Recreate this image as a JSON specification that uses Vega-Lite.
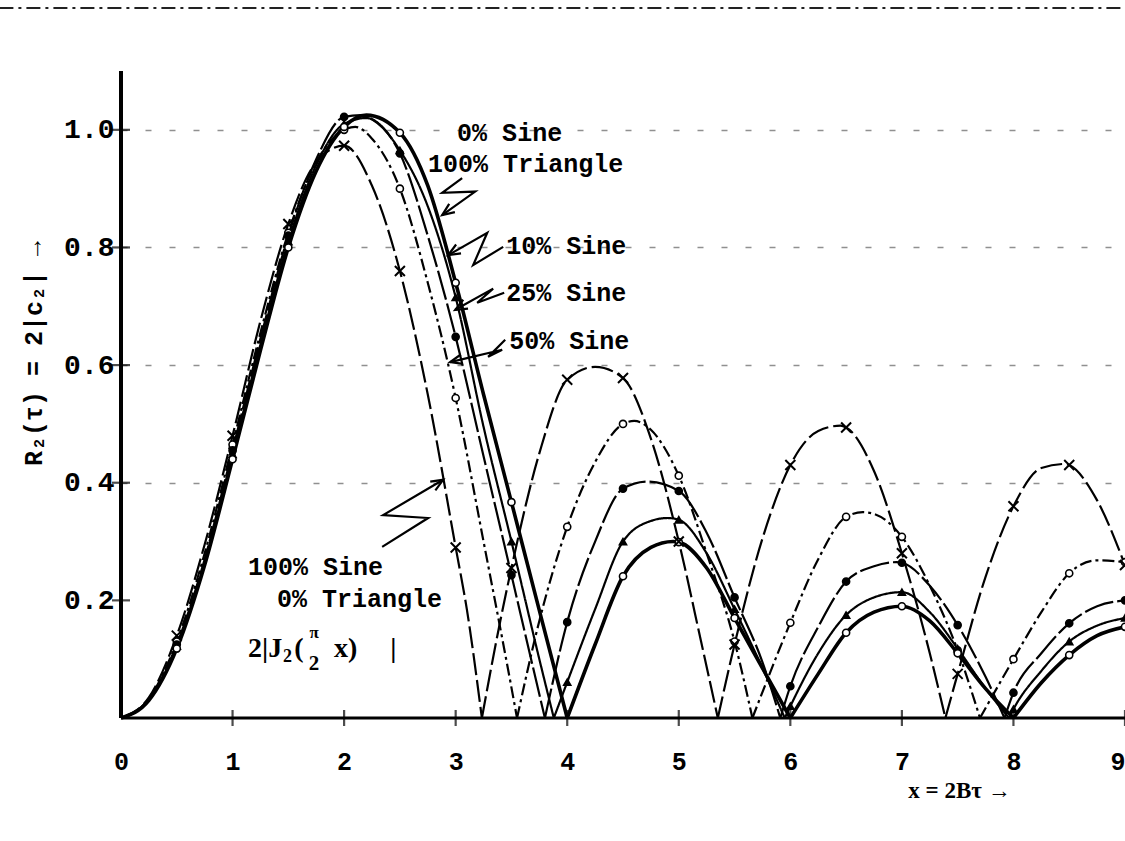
{
"$schema":"https://vega.github.io/schema/vega-lite/v6.json",
"width":1004,"height":647,
"autosize":{"type":"none"},
"padding":{"left":121,"top":71,"right":0,"bottom":123},
"background":"white",
"config":{"view":{"stroke":null},"axis":{"labelColor":"black","titleColor":"black"}},
"datasets":{
"curves":[
{"s":"S100","l":1,"x":0,"y":0},{"s":"S100","l":1,"x":0.25,"y":0.035},{"s":"S100","l":1,"x":0.5,"y":0.14},{"s":"S100","l":1,"x":0.75,"y":0.295},{"s":"S100","l":1,"x":1,"y":0.48},{"s":"S100","l":1,"x":1.25,"y":0.675},{"s":"S100","l":1,"x":1.5,"y":0.84},{"s":"S100","l":1,"x":1.75,"y":0.945},{"s":"S100","l":1,"x":2,"y":0.973},{"s":"S100","l":1,"x":2.25,"y":0.905},{"s":"S100","l":1,"x":2.5,"y":0.76},{"s":"S100","l":1,"x":2.75,"y":0.55},{"s":"S100","l":1,"x":3,"y":0.29},{"s":"S100","l":1,"x":3.1,"y":0.185},{"s":"S100","l":1,"x":3.235,"y":0},
{"s":"S100","l":2,"x":3.235,"y":0},{"s":"S100","l":2,"x":3.4,"y":0.165},{"s":"S100","l":2,"x":3.5,"y":0.255},{"s":"S100","l":2,"x":3.75,"y":0.45},{"s":"S100","l":2,"x":4,"y":0.575},{"s":"S100","l":2,"x":4.25,"y":0.597},{"s":"S100","l":2,"x":4.5,"y":0.578},{"s":"S100","l":2,"x":4.75,"y":0.475},{"s":"S100","l":2,"x":5,"y":0.3},{"s":"S100","l":2,"x":5.2,"y":0.13},{"s":"S100","l":2,"x":5.35,"y":0},
{"s":"S100","l":3,"x":5.35,"y":0},{"s":"S100","l":3,"x":5.5,"y":0.125},{"s":"S100","l":3,"x":5.75,"y":0.305},{"s":"S100","l":3,"x":6,"y":0.43},{"s":"S100","l":3,"x":6.25,"y":0.488},{"s":"S100","l":3,"x":6.45,"y":0.497},{"s":"S100","l":3,"x":6.5,"y":0.494},{"s":"S100","l":3,"x":6.75,"y":0.42},{"s":"S100","l":3,"x":7,"y":0.28},{"s":"S100","l":3,"x":7.25,"y":0.11},{"s":"S100","l":3,"x":7.39,"y":0},
{"s":"S100","l":4,"x":7.39,"y":0},{"s":"S100","l":4,"x":7.5,"y":0.075},{"s":"S100","l":4,"x":7.75,"y":0.24},{"s":"S100","l":4,"x":8,"y":0.36},{"s":"S100","l":4,"x":8.25,"y":0.425},{"s":"S100","l":4,"x":8.47,"y":0.432},{"s":"S100","l":4,"x":8.5,"y":0.43},{"s":"S100","l":4,"x":8.75,"y":0.37},{"s":"S100","l":4,"x":9,"y":0.26},
{"s":"S50","l":1,"x":0,"y":0},{"s":"S50","l":1,"x":0.25,"y":0.033},{"s":"S50","l":1,"x":0.5,"y":0.13},{"s":"S50","l":1,"x":0.75,"y":0.28},{"s":"S50","l":1,"x":1,"y":0.465},{"s":"S50","l":1,"x":1.25,"y":0.655},{"s":"S50","l":1,"x":1.5,"y":0.825},{"s":"S50","l":1,"x":1.75,"y":0.945},{"s":"S50","l":1,"x":2,"y":1.0},{"s":"S50","l":1,"x":2.1,"y":1.005},{"s":"S50","l":1,"x":2.25,"y":0.985},{"s":"S50","l":1,"x":2.5,"y":0.9},{"s":"S50","l":1,"x":2.75,"y":0.74},{"s":"S50","l":1,"x":3,"y":0.544},{"s":"S50","l":1,"x":3.25,"y":0.3},{"s":"S50","l":1,"x":3.49,"y":0.062},{"s":"S50","l":1,"x":3.55,"y":0},
{"s":"S50","l":2,"x":3.55,"y":0},{"s":"S50","l":2,"x":3.75,"y":0.165},{"s":"S50","l":2,"x":4,"y":0.325},{"s":"S50","l":2,"x":4.25,"y":0.435},{"s":"S50","l":2,"x":4.5,"y":0.5},{"s":"S50","l":2,"x":4.6,"y":0.505},{"s":"S50","l":2,"x":4.75,"y":0.49},{"s":"S50","l":2,"x":5,"y":0.412},{"s":"S50","l":2,"x":5.25,"y":0.28},{"s":"S50","l":2,"x":5.5,"y":0.13},{"s":"S50","l":2,"x":5.66,"y":0},
{"s":"S50","l":3,"x":5.66,"y":0},{"s":"S50","l":3,"x":6,"y":0.162},{"s":"S50","l":3,"x":6.25,"y":0.27},{"s":"S50","l":3,"x":6.5,"y":0.342},{"s":"S50","l":3,"x":6.65,"y":0.35},{"s":"S50","l":3,"x":6.75,"y":0.347},{"s":"S50","l":3,"x":7,"y":0.308},{"s":"S50","l":3,"x":7.25,"y":0.225},{"s":"S50","l":3,"x":7.5,"y":0.115},{"s":"S50","l":3,"x":7.7,"y":0},
{"s":"S50","l":4,"x":7.7,"y":0},{"s":"S50","l":4,"x":8,"y":0.1},{"s":"S50","l":4,"x":8.25,"y":0.18},{"s":"S50","l":4,"x":8.5,"y":0.246},{"s":"S50","l":4,"x":8.75,"y":0.268},{"s":"S50","l":4,"x":9,"y":0.265},
{"s":"S25","l":1,"x":0,"y":0},{"s":"S25","l":1,"x":0.25,"y":0.032},{"s":"S25","l":1,"x":0.5,"y":0.125},{"s":"S25","l":1,"x":0.75,"y":0.27},{"s":"S25","l":1,"x":1,"y":0.455},{"s":"S25","l":1,"x":1.25,"y":0.645},{"s":"S25","l":1,"x":1.5,"y":0.82},{"s":"S25","l":1,"x":1.75,"y":0.95},{"s":"S25","l":1,"x":2,"y":1.022},{"s":"S25","l":1,"x":2.15,"y":1.025},{"s":"S25","l":1,"x":2.25,"y":1.018},{"s":"S25","l":1,"x":2.5,"y":0.96},{"s":"S25","l":1,"x":2.75,"y":0.82},{"s":"S25","l":1,"x":3,"y":0.648},{"s":"S25","l":1,"x":3.25,"y":0.445},{"s":"S25","l":1,"x":3.5,"y":0.243},{"s":"S25","l":1,"x":3.66,"y":0.113},{"s":"S25","l":1,"x":3.8,"y":0},
{"s":"S25","l":2,"x":3.8,"y":0},{"s":"S25","l":2,"x":4,"y":0.163},{"s":"S25","l":2,"x":4.25,"y":0.3},{"s":"S25","l":2,"x":4.5,"y":0.39},{"s":"S25","l":2,"x":4.72,"y":0.402},{"s":"S25","l":2,"x":5,"y":0.386},{"s":"S25","l":2,"x":5.25,"y":0.315},{"s":"S25","l":2,"x":5.5,"y":0.205},{"s":"S25","l":2,"x":5.75,"y":0.095},{"s":"S25","l":2,"x":5.91,"y":0},
{"s":"S25","l":3,"x":5.91,"y":0},{"s":"S25","l":3,"x":6,"y":0.054},{"s":"S25","l":3,"x":6.25,"y":0.155},{"s":"S25","l":3,"x":6.5,"y":0.232},{"s":"S25","l":3,"x":6.75,"y":0.258},{"s":"S25","l":3,"x":6.95,"y":0.265},{"s":"S25","l":3,"x":7,"y":0.264},{"s":"S25","l":3,"x":7.25,"y":0.225},{"s":"S25","l":3,"x":7.5,"y":0.158},{"s":"S25","l":3,"x":7.75,"y":0.07},{"s":"S25","l":3,"x":7.92,"y":0},
{"s":"S25","l":4,"x":7.92,"y":0},{"s":"S25","l":4,"x":8,"y":0.043},{"s":"S25","l":4,"x":8.25,"y":0.11},{"s":"S25","l":4,"x":8.5,"y":0.161},{"s":"S25","l":4,"x":8.75,"y":0.19},{"s":"S25","l":4,"x":9,"y":0.2},
{"s":"S10","l":1,"x":0,"y":0},{"s":"S10","l":1,"x":0.25,"y":0.031},{"s":"S10","l":1,"x":0.5,"y":0.122},{"s":"S10","l":1,"x":0.75,"y":0.265},{"s":"S10","l":1,"x":1,"y":0.448},{"s":"S10","l":1,"x":1.25,"y":0.635},{"s":"S10","l":1,"x":1.5,"y":0.81},{"s":"S10","l":1,"x":1.75,"y":0.94},{"s":"S10","l":1,"x":2,"y":1.01},{"s":"S10","l":1,"x":2.2,"y":1.02},{"s":"S10","l":1,"x":2.5,"y":0.965},{"s":"S10","l":1,"x":2.75,"y":0.87},{"s":"S10","l":1,"x":3,"y":0.715},{"s":"S10","l":1,"x":3.25,"y":0.495},{"s":"S10","l":1,"x":3.5,"y":0.3},{"s":"S10","l":1,"x":3.75,"y":0.1},{"s":"S10","l":1,"x":3.88,"y":0},
{"s":"S10","l":2,"x":3.88,"y":0},{"s":"S10","l":2,"x":4,"y":0.061},{"s":"S10","l":2,"x":4.25,"y":0.185},{"s":"S10","l":2,"x":4.5,"y":0.3},{"s":"S10","l":2,"x":4.75,"y":0.335},{"s":"S10","l":2,"x":4.9,"y":0.34},{"s":"S10","l":2,"x":5,"y":0.337},{"s":"S10","l":2,"x":5.25,"y":0.28},{"s":"S10","l":2,"x":5.5,"y":0.185},{"s":"S10","l":2,"x":5.75,"y":0.085},{"s":"S10","l":2,"x":5.95,"y":0},
{"s":"S10","l":3,"x":5.95,"y":0},{"s":"S10","l":3,"x":6,"y":0.02},{"s":"S10","l":3,"x":6.25,"y":0.11},{"s":"S10","l":3,"x":6.5,"y":0.175},{"s":"S10","l":3,"x":6.75,"y":0.205},{"s":"S10","l":3,"x":7,"y":0.214},{"s":"S10","l":3,"x":7.25,"y":0.18},{"s":"S10","l":3,"x":7.5,"y":0.118},{"s":"S10","l":3,"x":7.75,"y":0.05},{"s":"S10","l":3,"x":7.96,"y":0},
{"s":"S10","l":4,"x":7.96,"y":0},{"s":"S10","l":4,"x":8,"y":0.015},{"s":"S10","l":4,"x":8.25,"y":0.08},{"s":"S10","l":4,"x":8.5,"y":0.13},{"s":"S10","l":4,"x":8.75,"y":0.157},{"s":"S10","l":4,"x":9,"y":0.17},
{"s":"S0","l":1,"x":0,"y":0},{"s":"S0","l":1,"x":0.25,"y":0.03},{"s":"S0","l":1,"x":0.5,"y":0.118},{"s":"S0","l":1,"x":0.75,"y":0.26},{"s":"S0","l":1,"x":1,"y":0.44},{"s":"S0","l":1,"x":1.25,"y":0.625},{"s":"S0","l":1,"x":1.5,"y":0.8},{"s":"S0","l":1,"x":1.75,"y":0.93},{"s":"S0","l":1,"x":2,"y":1.005},{"s":"S0","l":1,"x":2.2,"y":1.025},{"s":"S0","l":1,"x":2.5,"y":0.995},{"s":"S0","l":1,"x":2.75,"y":0.905},{"s":"S0","l":1,"x":3,"y":0.74},{"s":"S0","l":1,"x":3.25,"y":0.55},{"s":"S0","l":1,"x":3.5,"y":0.367},{"s":"S0","l":1,"x":3.75,"y":0.183},{"s":"S0","l":1,"x":4,"y":0},
{"s":"S0","l":2,"x":4,"y":0},{"s":"S0","l":2,"x":4.25,"y":0.125},{"s":"S0","l":2,"x":4.5,"y":0.241},{"s":"S0","l":2,"x":4.75,"y":0.29},{"s":"S0","l":2,"x":4.95,"y":0.3},{"s":"S0","l":2,"x":5,"y":0.299},{"s":"S0","l":2,"x":5.25,"y":0.255},{"s":"S0","l":2,"x":5.5,"y":0.17},{"s":"S0","l":2,"x":5.75,"y":0.085},{"s":"S0","l":2,"x":6,"y":0},
{"s":"S0","l":3,"x":6,"y":0},{"s":"S0","l":3,"x":6.25,"y":0.075},{"s":"S0","l":3,"x":6.5,"y":0.145},{"s":"S0","l":3,"x":6.75,"y":0.18},{"s":"S0","l":3,"x":7,"y":0.19},{"s":"S0","l":3,"x":7.25,"y":0.165},{"s":"S0","l":3,"x":7.5,"y":0.11},{"s":"S0","l":3,"x":7.75,"y":0.05},{"s":"S0","l":3,"x":8,"y":0},
{"s":"S0","l":4,"x":8,"y":0},{"s":"S0","l":4,"x":8.25,"y":0.06},{"s":"S0","l":4,"x":8.5,"y":0.107},{"s":"S0","l":4,"x":8.75,"y":0.14},{"s":"S0","l":4,"x":9,"y":0.155}
],
"arrows":[
{"a":"T","i":0,"x":3.058,"y":0.918},{"a":"T","i":1,"x":2.879,"y":0.893},{"a":"T","i":2,"x":3.175,"y":0.895},{"a":"T","i":3,"x":2.879,"y":0.855},
{"a":"Th","i":0,"x":2.942,"y":0.874},{"a":"Th","i":1,"x":2.879,"y":0.855},{"a":"Th","i":2,"x":2.993,"y":0.86},
{"a":"A10","i":0,"x":3.426,"y":0.801},{"a":"A10","i":1,"x":3.157,"y":0.77},{"a":"A10","i":2,"x":3.283,"y":0.825},{"a":"A10","i":3,"x":2.933,"y":0.787},
{"a":"A10h","i":0,"x":3.004,"y":0.805},{"a":"A10h","i":1,"x":2.933,"y":0.787},{"a":"A10h","i":2,"x":3.048,"y":0.79},
{"a":"A25","i":0,"x":3.435,"y":0.723},{"a":"A25","i":1,"x":3.193,"y":0.706},{"a":"A25","i":2,"x":3.336,"y":0.73},{"a":"A25","i":3,"x":2.996,"y":0.694},
{"a":"A25h","i":0,"x":3.068,"y":0.711},{"a":"A25h","i":1,"x":2.996,"y":0.694},{"a":"A25h","i":2,"x":3.111,"y":0.696},
{"a":"A50","i":0,"x":3.444,"y":0.643},{"a":"A50","i":1,"x":3.291,"y":0.614},{"a":"A50","i":2,"x":3.417,"y":0.626},{"a":"A50","i":3,"x":2.951,"y":0.605},
{"a":"A50h","i":0,"x":3.046,"y":0.618},{"a":"A50h","i":1,"x":2.951,"y":0.605},{"a":"A50h","i":2,"x":3.065,"y":0.602},
{"a":"A100","i":0,"x":2.341,"y":0.291},{"a":"A100","i":1,"x":2.753,"y":0.34},{"a":"A100","i":2,"x":2.35,"y":0.345},{"a":"A100","i":3,"x":2.888,"y":0.405},
{"a":"A100h","i":0,"x":2.818,"y":0.387},{"a":"A100h","i":1,"x":2.888,"y":0.405},{"a":"A100h","i":2,"x":2.772,"y":0.402}
],
"labels":[
{"t":"0% Sine","x":3.013,"y":0.995},
{"t":"100% Triangle","x":2.753,"y":0.942},
{"t":"10% Sine","x":3.453,"y":0.803},
{"t":"25% Sine","x":3.453,"y":0.723},
{"t":"50% Sine","x":3.48,"y":0.641},
{"t":"100% Sine","x":1.139,"y":0.257},
{"t":"0% Triangle","x":1.399,"y":0.202}
],
"xt":[{"x":1,"y":0},{"x":2,"y":0},{"x":3,"y":0},{"x":4,"y":0},{"x":5,"y":0},{"x":6,"y":0},{"x":7,"y":0},{"x":8,"y":0},{"x":9,"y":0}],
"yt":[{"x":0,"y":0.2},{"x":0,"y":0.4},{"x":0,"y":0.6},{"x":0,"y":0.8},{"x":0,"y":1.0}]
},
"encoding":{
"x":{"field":"x","type":"quantitative","scale":{"domain":[0,9],"nice":false,"zero":false},
 "axis":{"values":[0,1,2,3,4,5,6,7,8,9],"format":"d","domain":false,"ticks":false,"grid":false,
  "labelFont":"Liberation Mono","labelFontWeight":"bold","labelFontSize":25,"labelPadding":31,"labelBaseline":"top",
  "labelAlign":{"condition":{"test":"datum.value == 9","value":"right"},"value":"center"},
  "title":"x = 2Bτ →","titleFont":"Liberation Serif","titleFontSize":23,"titleFontWeight":"bold",
  "titleX":838,"titleY":72,"titleAlign":"center","titleBaseline":"middle"}},
"y":{"field":"y","type":"quantitative","scale":{"domain":[0,1.1],"nice":false},
 "axis":{"values":[0.2,0.4,0.6,0.8,1.0],"format":".1f","domain":false,"ticks":false,
  "grid":true,"gridDash":[6,18],"gridColor":"#222","gridWidth":1.3,
  "gridOpacity":{"condition":{"test":"datum.value < 0.3","value":0},"value":0.5},
  "labelFont":"Liberation Mono","labelFontWeight":"bold","labelFontSize":28,"labelPadding":7,
  "title":"R₂(τ) = 2|c₂| →","titleFont":"Liberation Mono","titleFontSize":25,"titleFontWeight":"bold",
  "titleAngle":270,"titleX":-88,"titleY":282,"titleAlign":"center","titleBaseline":"middle"}}
},
"layer":[
{"data":{"values":[{"x":-1.09,"x2":9,"y":1.207}]},"mark":{"type":"rule","color":"#222","strokeWidth":2,"strokeDash":[14,5,3,5]},"encoding":{"x2":{"field":"x2"}}},
{"data":{"values":[{"x":0,"x2":9,"y":0}]},"mark":{"type":"rule","color":"black","strokeWidth":3.2},"encoding":{"x2":{"field":"x2"}}},
{"data":{"values":[{"x":0,"y":0,"y2":1.1}]},"mark":{"type":"rule","color":"black","strokeWidth":4},"encoding":{"y2":{"field":"y2"}}},
{"data":{"name":"xt"},"mark":{"type":"tick","orient":"vertical","size":16,"thickness":2.2,"color":"black"},"encoding":{}},
{"data":{"name":"yt"},"mark":{"type":"tick","orient":"horizontal","size":18,"thickness":2.2,"color":"black"},"encoding":{}},
{"data":{"name":"curves"},"transform":[{"filter":"datum.s != 'S0'"}],
 "mark":{"type":"line","color":"black","strokeWidth":2.2,"interpolate":"monotone"},
 "encoding":{"detail":[{"field":"s"},{"field":"l"}],
  "strokeDash":{"field":"s","type":"nominal","scale":{"domain":["S100","S50","S25","S10"],"range":[[22,5],[12,4,3,4],[30,4],[1,0]]},"legend":null}}},
{"data":{"name":"curves"},"transform":[{"filter":"datum.s == 'S0'"}],
 "mark":{"type":"line","color":"black","strokeWidth":3.6,"interpolate":"monotone"},
 "encoding":{"detail":{"field":"l"}}},
{"data":{"name":"curves"},"transform":[{"filter":"datum.s != 'S100' && datum.y > 0.001 && abs(datum.x*2 - round(datum.x*2)) < 0.001"}],
 "mark":{"type":"point","filled":true,"stroke":"black","strokeWidth":1.6,"size":50,"opacity":1},
 "encoding":{
  "shape":{"field":"s","type":"nominal","scale":{"domain":["S50","S25","S10","S0"],"range":["circle","circle","triangle-up","circle"]},"legend":null},
  "fill":{"field":"s","type":"nominal","scale":{"domain":["S50","S25","S10","S0"],"range":["white","black","black","white"]},"legend":null}}},
{"data":{"name":"curves"},"transform":[{"filter":"datum.s == 'S100' && datum.y > 0.001 && abs(datum.x*2 - round(datum.x*2)) < 0.001"}],
 "mark":{"type":"point","shape":"M-1,-1L1,1M1,-1L-1,1","filled":false,"stroke":"black","strokeWidth":2,"size":100,"opacity":1},
 "encoding":{}},
{"data":{"name":"arrows"},"mark":{"type":"line","color":"black","strokeWidth":2.2},
 "encoding":{"detail":{"field":"a"},"order":{"field":"i","type":"quantitative"}}},
{"data":{"name":"labels"},"mark":{"type":"text","align":"left","baseline":"middle","font":"Liberation Mono","fontSize":25,"fontWeight":"bold","color":"black"},
 "encoding":{"text":{"field":"t"}}},
{"data":{"values":[{"t":"2|J","x":1.139,"y":0.1037},{"t":"(","x":1.552,"y":0.1037},{"t":"x)","x":1.91,"y":0.1037},{"t":"|","x":2.413,"y":0.1037}]},
 "mark":{"type":"text","align":"left","baseline":"alphabetic","font":"Liberation Serif","fontSize":28,"fontWeight":"bold","color":"black"},
 "encoding":{"text":{"field":"t"}}},
{"data":{"values":[{"t":"2","x":1.453,"y":0.0952}]},
 "mark":{"type":"text","align":"left","baseline":"alphabetic","font":"Liberation Serif","fontSize":18,"fontWeight":"bold","color":"black"},
 "encoding":{"text":{"field":"t"}}},
{"data":{"values":[{"t":"π","x":1.731,"y":0.136}]},
 "mark":{"type":"text","align":"center","baseline":"alphabetic","font":"Liberation Serif","fontSize":17,"fontWeight":"bold","color":"black"},
 "encoding":{"text":{"field":"t"}}},
{"data":{"values":[{"t":"2","x":1.731,"y":0.0816}]},
 "mark":{"type":"text","align":"center","baseline":"alphabetic","font":"Liberation Serif","fontSize":21,"fontWeight":"bold","color":"black"},
 "encoding":{"text":{"field":"t"}}}
]
}
